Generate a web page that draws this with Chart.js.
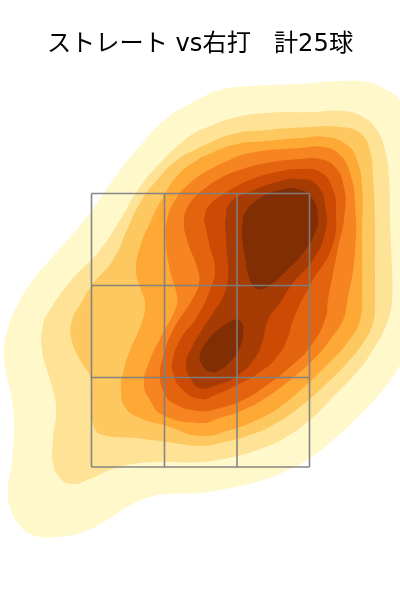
<!DOCTYPE html>
<html><head><meta charset="utf-8">
<style>html,body{margin:0;padding:0;background:#fff}canvas{display:block}</style>
<script src="https://cdn.jsdelivr.net/npm/chart.js@4/dist/chart.umd.min.js"></script>
</head><body><canvas id="c" width="400" height="600"></canvas>
<script>
const titleText = "ストレート vs右打   計25球";
const level1 = [[200,98],[220,90],[250,86],[300,84],[340,81],[367,82],[387,90],[400,100],[412,125],[418,200],[418,280],[412,340],[400,365],[383,390],[360,415],[333,440],[310,458],[288,470],[260,481],[230,488],[200,493],[167,494],[147,498],[127,507],[107,520],[83,532],[57,537],[33,535],[18,523],[10,507],[8,490],[12,460],[14,427],[12,400],[6,372],[4,350],[8,328],[15,310],[33,280],[57,252],[90,213],[115,177],[140,146],[167,118],[200,98]];
const level2 = [[200,130],[233,118],[267,113],[310,112],[343,111],[363,117],[377,130],[385,150],[389,177],[390,220],[392,270],[392,300],[387,323],[373,350],[357,372],[333,397],[310,420],[283,439],[260,449],[237,456],[200,462],[163,462],[133,464],[110,470],[90,479],[72,484],[60,478],[53,463],[53,440],[56,407],[50,380],[42,350],[43,325],[50,310],[70,282],[100,250],[120,220],[140,187],[163,160],[187,138],[200,130]];
const level3 = [[200,147],[233,134],[267,130],[310,127],[340,127],[360,133],[370,150],[373,177],[375,220],[375,270],[375,300],[373,323],[363,343],[347,363],[323,387],[300,407],[273,425],[250,435],[220,443],[200,446],[167,442],[133,438],[103,435],[94,427],[92,403],[90,377],[80,360],[71,337],[73,317],[80,305],[92,285],[113,260],[127,230],[140,203],[157,180],[177,160],[200,147]];
const level4 = [[200,158],[233,145],[267,141],[300,138],[327,137],[347,145],[357,160],[362,187],[362,237],[362,287],[360,320],[347,343],[327,365],[303,388],[280,407],[257,420],[230,430],[200,436],[167,426],[140,418],[125,407],[121,390],[123,373],[130,350],[140,327],[145,305],[140,287],[136,270],[140,247],[150,223],[163,197],[180,173],[200,158]];
const level5 = [[200,175],[225,162],[250,153],[300,148],[323,147],[340,155],[350,173],[355,203],[355,253],[347,303],[343,320],[330,340],[313,360],[290,380],[267,397],[243,410],[220,418],[200,423],[163,415],[150,400],[144,383],[150,360],[163,333],[175,310],[177,297],[170,270],[166,243],[167,220],[177,197],[190,183],[200,175]];
const level6 = [[200,192],[217,180],[240,170],[267,163],[300,159],[320,159],[335,167],[343,183],[345,210],[337,253],[328,300],[325,320],[310,347],[290,367],[267,385],[243,400],[220,408],[200,411],[173,403],[163,390],[160,373],[163,357],[173,330],[192,300],[199,283],[197,267],[188,243],[184,220],[190,203],[200,192]];
const level7 = [[204,220],[208,207],[227,192],[250,180],[277,172],[300,169],[320,172],[332,187],[336,210],[332,247],[310,285],[293,320],[288,337],[277,357],[257,374],[237,385],[217,394],[200,399],[180,387],[173,372],[172,363],[180,340],[197,317],[210,290],[215,270],[210,247],[204,220]];
const level8 = [[225,223],[230,203],[250,192],[277,182],[300,179],[317,185],[326,210],[325,233],[313,260],[293,283],[280,303],[268,320],[262,343],[255,358],[237,376],[217,385],[200,388],[190,378],[186,363],[192,347],[200,333],[215,310],[223,297],[228,277],[227,253],[225,223]];
const level9a = [[242,227],[245,213],[260,198],[280,190],[297,189],[312,198],[318,217],[315,233],[303,253],[287,270],[270,285],[258,289],[250,280],[245,257],[242,237],[242,227]];
const level9b = [[235,319],[242,323],[243,335],[240,347],[232,360],[220,370],[210,372],[202,365],[200,355],[208,340],[220,328],[235,319]];
const contours = [level1,level2,level3,level4,level5,level6,level7,level8,level9a,level9b];
const fills = ["#fff8cb","#fee397","#fec860","#fea835","#f68420","#e4630f","#cc4a03","#a63c03","#822e04","#822e04"];
const zoneX = [91.5,164.5,237,309.5];
const zoneY = [193.5,285.5,377.5,467];
const datasets = contours.map((pts,i)=>({data:pts,showLine:true,fill:'shape',backgroundColor:fills[i],borderWidth:0,borderColor:'transparent',pointRadius:0,tension:0.5,order:100-i}));
const gridStyle = {showLine:true,fill:false,borderColor:'rgba(128,128,128,0.95)',borderWidth:1.6,pointRadius:0,order:1};
zoneX.forEach(x=>datasets.push({...gridStyle,data:[[x,zoneY[0]],[x,zoneY[3]]]}));
zoneY.forEach(y=>datasets.push({...gridStyle,data:[[zoneX[0],y],[zoneX[3],y]]}));
new Chart(document.getElementById('c'),{
  type:'scatter',
  data:{datasets},
  options:{responsive:false,animation:false,devicePixelRatio:1,
    layout:{padding:0},
    elements:{line:{capBezierPoints:false}},
    plugins:{legend:{display:false},tooltip:{enabled:false},
      title:{display:true,text:titleText,color:'#000',font:{family:"'DejaVu Sans','Noto Sans CJK JP'",size:24.2,weight:'normal',lineHeight:1.2},padding:{top:30,bottom:11},align:'center'}},
    scales:{
      x:{type:'linear',min:0,max:400,display:false},
      y:{type:'linear',min:70,max:600,reverse:true,display:false}
    }
  }
});
</script></body></html>
